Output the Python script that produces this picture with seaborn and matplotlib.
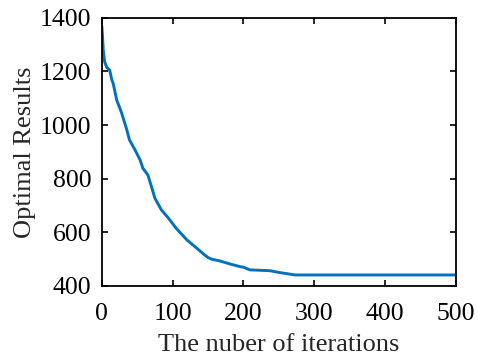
import matplotlib
matplotlib.use("Agg")
import matplotlib.pyplot as plt
import seaborn as sns
import pandas as pd

iterations = [0, 1, 2, 4, 7, 11, 14, 16, 21, 28, 35, 39, 47, 54, 58, 65, 70, 75, 84, 94,
              105, 120, 134, 145, 150, 155, 167, 181, 195, 200, 209, 237, 251, 273, 300, 400, 500]
results = [1370, 1330, 1280, 1236, 1215, 1206, 1170, 1156, 1094, 1045, 985, 945, 907, 870, 839,
           814, 771, 727, 684, 653, 615, 572, 541, 516, 506, 500, 493, 482, 472, 470, 460, 457, 450,
           441, 441, 441, 441]

sns.set_theme(style="ticks")
plt.rcParams["font.family"] = ["Liberation Serif", "DejaVu Serif"]

df = pd.DataFrame({"iter": iterations, "res": results})

fig = plt.figure(figsize=(4.78, 3.57), dpi=100)
ax = fig.add_axes([0.213, 0.199, 0.741, 0.751])
sns.lineplot(data=df, x="iter", y="res", ax=ax, color="#0072BD", linewidth=2.1)

ax.set_xlim(0, 500)
ax.set_ylim(400, 1400)
ax.set_xticks([0, 100, 200, 300, 400, 500])
ax.set_yticks([400, 600, 800, 1000, 1200, 1400])
ax.tick_params(direction="in", length=4, width=1.2, top=True, right=True,
               labelsize=18.5, colors="black")
ax.tick_params(axis="x", pad=12)
ax.tick_params(axis="y", pad=7.5)
for s in ax.spines.values():
    s.set_visible(True)
    s.set_linewidth(1.3)
    s.set_color("black")
ax.set_xlabel("The nuber of iterations", fontsize=19, labelpad=7)
ax.set_ylabel("Optimal Results", fontsize=19, labelpad=3)
fig.savefig("out.png", dpi=100)
